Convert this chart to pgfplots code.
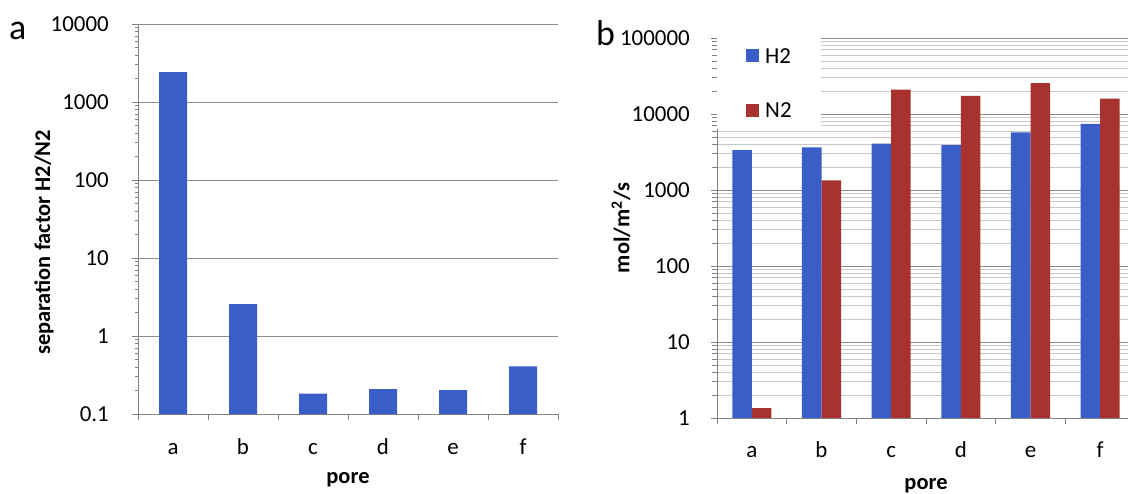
\documentclass[border=0pt]{standalone}
\usepackage{fontspec}
\setmainfont{Carlito}
\usepackage{pgfplots}
\pgfplotsset{compat=1.18}
\definecolor{barblue}{RGB}{58,94,200}
\definecolor{barred}{RGB}{168,50,46}
\definecolor{axgray}{RGB}{130,130,130}
\definecolor{gridgray}{RGB}{140,140,140}
\definecolor{minorgray}{RGB}{200,200,200}
\newcommand{\tickfont}{\fontsize{23}{27}\selectfont}
\newcommand{\labfont}{\fontsize{22.5}{26}\selectfont\bfseries}
\begin{document}
\begin{tikzpicture}
\useasboundingbox (0,0) rectangle (1128bp,494bp);
% panel a
\begin{axis}[
  scale only axis, anchor=south west,
  at={(138bp,80bp)}, width=420bp, height=390bp,
  ymode=log, log origin=infty,
  axis x line*=bottom, axis y line*=left,
  x axis line style={-, draw=axgray, line width=1bp},
  y axis line style={-, draw=axgray, line width=1bp},
  xmin=-0.5, xmax=5.5,
  xtick={-0.5,0.5,1.5,2.5,3.5,4.5,5.5}, xticklabels={},
  extra x ticks={0,1,2,3,4,5}, extra x tick labels={a,b,c,d,e,f},
  extra x tick style={major tick length=0pt, grid=none},
  tick style={draw=axgray, line width=0.8bp},
  tick align=outside, major tick length=6bp,
  ymin=0.1, ymax=10000,
  ytick={0.1,1,10,100,1000,10000},
  yticklabels={0.1,1,10,100,1000,10000},
  minor ytick={},
  ymajorgrids,
  major grid style={draw=gridgray, line width=0.9bp},
  tick label style={font=\tickfont},
  xticklabel style={anchor=base, inner sep=0pt, yshift=-40bp},
  yticklabel style={anchor=east, inner sep=0pt, xshift=-23bp},
  label style={font=\labfont},
  ybar, bar width=0.4,
  xlabel={pore},
  xlabel style={at={(axis description cs:0.5,0)}, anchor=base, yshift=-69bp},
  ylabel={separation factor H2/N2},
  ylabel style={at={(axis description cs:0,0.44)}, anchor=center, yshift=94bp},
]
\addplot[fill=barblue, draw=none] coordinates {(0,2420) (1,2.56) (2,0.183) (3,0.208) (4,0.202) (5,0.409)};
\end{axis}
% panel b
\begin{axis}[
  scale only axis, anchor=south west,
  at={(717bp,76bp)}, width=418bp, height=380bp,
  ymode=log, log origin=infty,
  axis x line*=bottom, axis y line*=left,
  x axis line style={-, draw=axgray, line width=1bp},
  y axis line style={-, draw=axgray, line width=1bp},
  xmin=-0.5, xmax=5.5,
  xtick={-0.5,0.5,1.5,2.5,3.5,4.5,5.5}, xticklabels={},
  extra x ticks={0,1,2,3,4,5}, extra x tick labels={a,b,c,d,e,f},
  extra x tick style={major tick length=0pt, grid=none},
  tick style={draw=axgray, line width=0.8bp},
  minor tick style={draw=axgray, line width=0.6bp},
  tick align=outside, major tick length=6bp, minor tick length=5bp,
  ymin=1, ymax=100000,
  ytick={1,10,100,1000,10000,100000},
  yticklabels={1,10,100,1000,10000,100000},
  ymajorgrids, yminorgrids,
  major grid style={draw=gridgray, line width=0.9bp},
  minor grid style={draw=minorgray, line width=0.6bp},
  tick label style={font=\tickfont},
  xticklabel style={anchor=base, inner sep=0pt, yshift=-39bp},
  yticklabel style={anchor=east, inner sep=0pt, xshift=-21bp},
  label style={font=\labfont},
  ybar=0pt, bar width=0.28,
  xlabel={pore},
  xlabel style={at={(axis description cs:0.5,0)}, anchor=base, yshift=-71bp},
  ylabel={mol/m\textsuperscript{2}/s},
  ylabel style={at={(axis description cs:0,0.5)}, anchor=center, yshift=96bp},
  legend style={at={(0,1)}, anchor=north west, draw=none, fill=white,
    inner xsep=29bp, inner ysep=10bp, row sep=38bp, column sep=6bp,
    font=\fontsize{23}{27}\selectfont, nodes={inner sep=0pt}},
  legend cell align=left,
  legend image code/.code={\fill[#1] (0bp,-6bp) rectangle (13bp,7bp);},
]
\addplot[fill=barblue, draw=none] coordinates {(0,3350) (1,3630) (2,4090) (3,3890) (4,5710) (5,7420)};
\addplot[fill=barred, draw=none] coordinates {(0,1.35) (1,1337) (2,20960) (3,17300) (4,25400) (5,15960)};
\legend{H2,N2}
\end{axis}
\node[anchor=base west, inner sep=0pt, font=\fontsize{36}{40}\selectfont] at (9bp,454bp) {a};
\node[anchor=base west, inner sep=0pt, font=\fontsize{36}{40}\selectfont] at (596bp,448bp) {b};
\end{tikzpicture}
\end{document}
